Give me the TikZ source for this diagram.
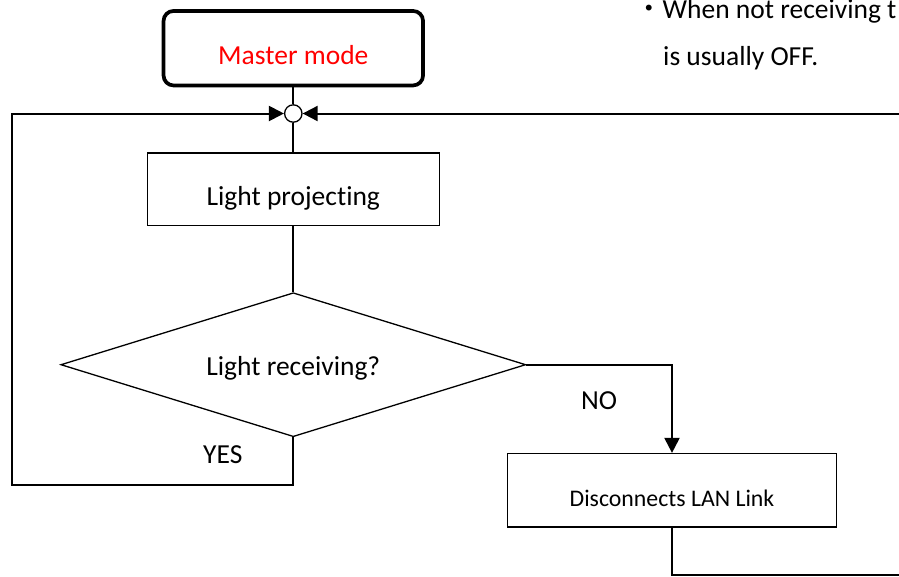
\documentclass[tikz,border=0pt]{standalone}
\usepackage{fontspec}
\setmainfont{Carlito}[Ligatures=NoCommon]
\newfontfamily\cjk{Noto Sans CJK JP}
\usetikzlibrary{shapes.geometric,arrows.meta}
\tikzset{
  conn/.style={line width=2pt},
  tip/.style={-{Triangle[length=15pt,width=15pt]}},
  box/.style={draw,line width=1.3pt,text height=32pt,text depth=0pt},
  lbl/.style={anchor=base west,inner sep=0pt},
}
\begin{document}
\begin{tikzpicture}[x=1pt,y=-1pt,font=\fontsize{27.5}{33}\selectfont]
\pgfmathsetmacro{\cx}{293.3}
\useasboundingbox (0,0) rectangle (899,576);
\clip (0,0) rectangle (899,576);
\node[box,rounded corners=10pt,line width=3.7pt,text=red,minimum width=259.5pt,minimum height=74.5pt](master) at (\cx,48.2){Master mode};
\node[draw,circle,line width=1.3pt,minimum size=17.4pt,inner sep=0pt](junc) at (\cx,113.5){};
\node[box,minimum width=292pt,minimum height=72.5pt](proj) at (\cx,189.2){Light projec\kern0pt ting};
\node[box,diamond,shape aspect=3.2,text height=22pt,inner sep=2pt,minimum width=465pt,minimum height=144pt](recv) at (\cx,364.7){Light receiving?};
\node[box,font=\fontsize{23.8}{28}\selectfont,text height=32.8pt,minimum width=328.5pt,minimum height=73.5pt](disc) at (672,490.3){Disconnects LAN Link};
\node[lbl](no) at (581,409){NO};
\node[lbl](yes) at (203,463){YES};
\node[lbl](note1) at (635,18){{\cjk ・}When not receiving t};
\node[lbl](note2) at (663,65){is usually OFF.};
\coordinate(loopL) at (12,485);
\coordinate(outT) at (920,113.5);
\coordinate(outB) at (920,575);
\draw[conn](master)--(junc);
\draw[conn](junc)--(proj);
\draw[conn](proj)--(recv);
\draw[conn,tip](recv.south)|-(loopL)|-(junc.west);
\draw[conn,tip](outT)--(junc.east);
\draw[conn,tip](recv.east)-|(disc.north);
\draw[conn](disc.south)|-(outB);
\end{tikzpicture}
\end{document}
